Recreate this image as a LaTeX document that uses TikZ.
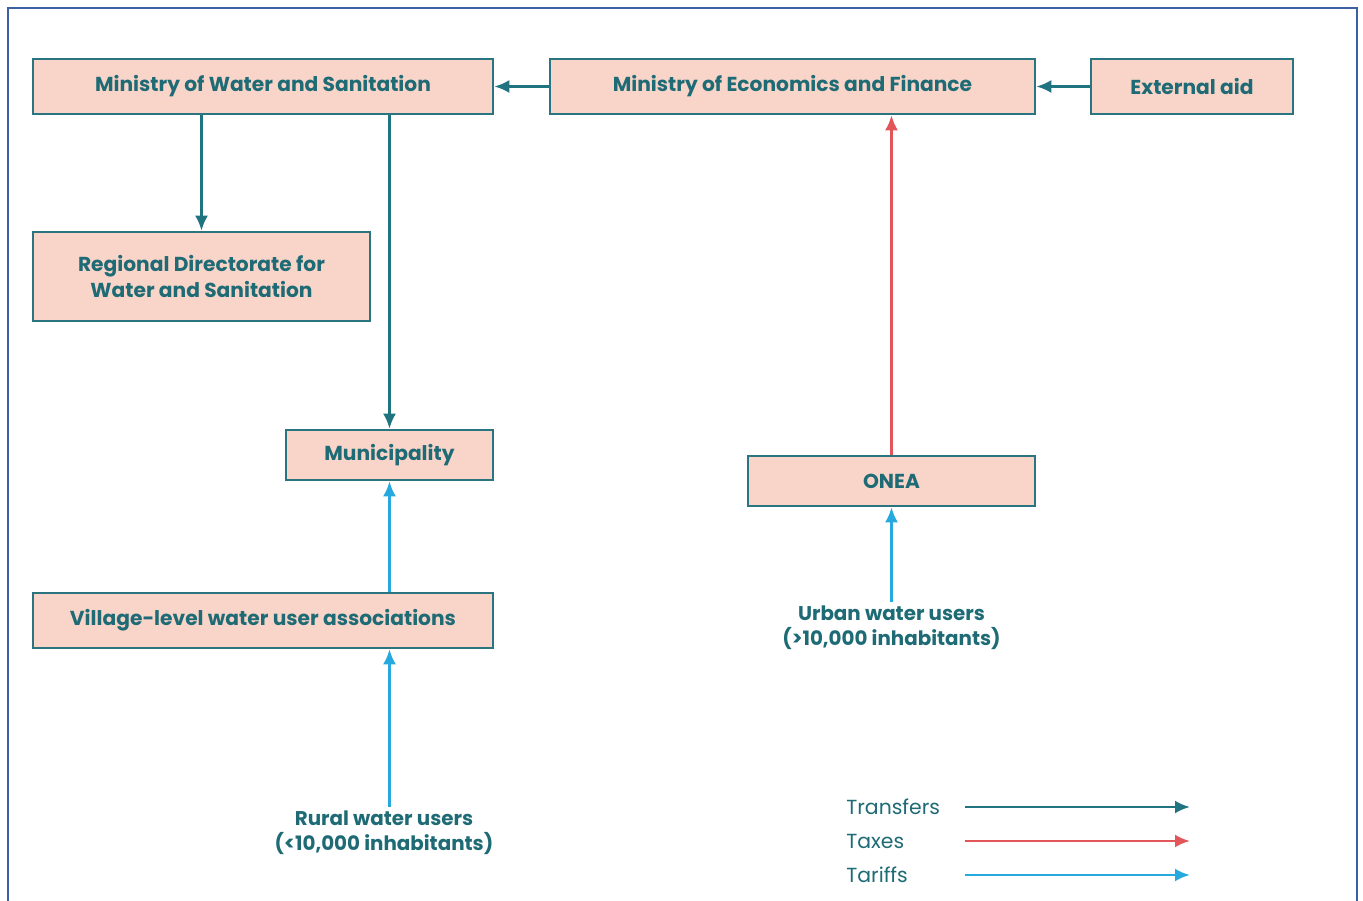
\documentclass[tikz,border=0pt]{standalone}
\usepackage{fontspec}
\setmainfont{Poppins}
\usetikzlibrary{arrows.meta,calc}
\definecolor{frameblue}{HTML}{3C5FA6}
\definecolor{boxfill}{HTML}{F9D5C9}
\definecolor{boxline}{HTML}{2B7580}
\definecolor{txtteal}{HTML}{1E6B75}
\definecolor{transfercol}{HTML}{1F7480}
\definecolor{taxcol}{HTML}{E2565A}
\definecolor{tariffcol}{HTML}{25A9DF}
\tikzset{
  box/.style={draw=boxline, fill=boxfill, line width=1.5pt, text=txtteal, align=center, inner sep=0pt, font=\bfseries\fontsize{11.5}{14.5}\selectfont},
  usertext/.style={text=txtteal, align=center, inner sep=1pt, font=\bfseries\fontsize{11.3}{14}\selectfont},
  legendtext/.style={text=txtteal, anchor=west, inner sep=0pt, font=\fontsize{11.6}{13}\selectfont},
  transfer/.style={transfercol, line width=1.5pt, -{Latex[length=3mm, width=2.6mm]}},
  tax/.style={taxcol, line width=1.5pt, -{Latex[length=3mm, width=2.6mm]}},
  tariff/.style={tariffcol, line width=1.5pt, -{Latex[length=3mm, width=2.6mm]}}
}
\begin{document}
\begin{tikzpicture}[x=0.02cm, y=-0.02cm]
\useasboundingbox (0,0) rectangle (1363,901);
\draw [frameblue, line width=1.5pt] (8,920) -- (8,8) -- (1357,8) -- (1357,920);

\node [box, minimum width=9.2cm, minimum height=1.1cm] (mws) at (263,86.5) {Ministry of Water and Sanitation};
\node [box, minimum width=9.7cm, minimum height=1.1cm] (mef) at (792.5,86.5) {Ministry of Economics and Finance};
\node [box, minimum width=4.04cm, minimum height=1.1cm] (aid) at (1192,86.5) {External aid};
\node [box, minimum width=6.74cm, minimum height=1.78cm] (rdws) at (201.5,276.5) {Regional Directorate for\\Water and Sanitation};
\node [box, minimum width=4.14cm, minimum height=1.0cm] (muni) at (389.5,455) {Municipality};
\node [box, minimum width=9.2cm, minimum height=1.1cm] (village) at (263,620.5) {Village-level water user associations};
\node [box, minimum width=5.74cm, minimum height=1.0cm] (onea) at (891.5,481) {ONEA};

\node [usertext] (rural) at (384,833) {Rural water users\\(<10,000 inhabitants)};
\node [usertext] (urban) at (891.5,628) {Urban water users\\(>10,000 inhabitants)};

\draw [transfer] (mef.west) -- (mws.east);
\draw [transfer] (aid.west) -- (mef.east);
\draw [transfer] (mws.south -| rdws.north) -- (rdws.north);
\draw [transfer] (mws.south -| muni.north) -- (muni.north);
\draw [tax] (onea.north) -- (onea.north |- mef.south);
\draw [tariff] (village.north -| muni.south) -- (muni.south);
\draw [tariff] ($(rural.north -| muni.south)+(0,-2)$) -- (village.south -| muni.south);
\draw [tariff] ($(urban.north)+(0,-2)$) -- (onea.south);

\foreach \name/\lbl/\sty/\y in {legtransfer/Transfers/transfer/807, legtax/Taxes/tax/841, legtariff/Tariffs/tariff/875} {
  \node [legendtext] (\name) at (846,\y) {\lbl};
  \coordinate (\name a) at (965,\y);
  \coordinate (\name b) at (1190,\y);
  \draw [\sty] (\name a) -- (\name b);
}
\end{tikzpicture}
\end{document}
